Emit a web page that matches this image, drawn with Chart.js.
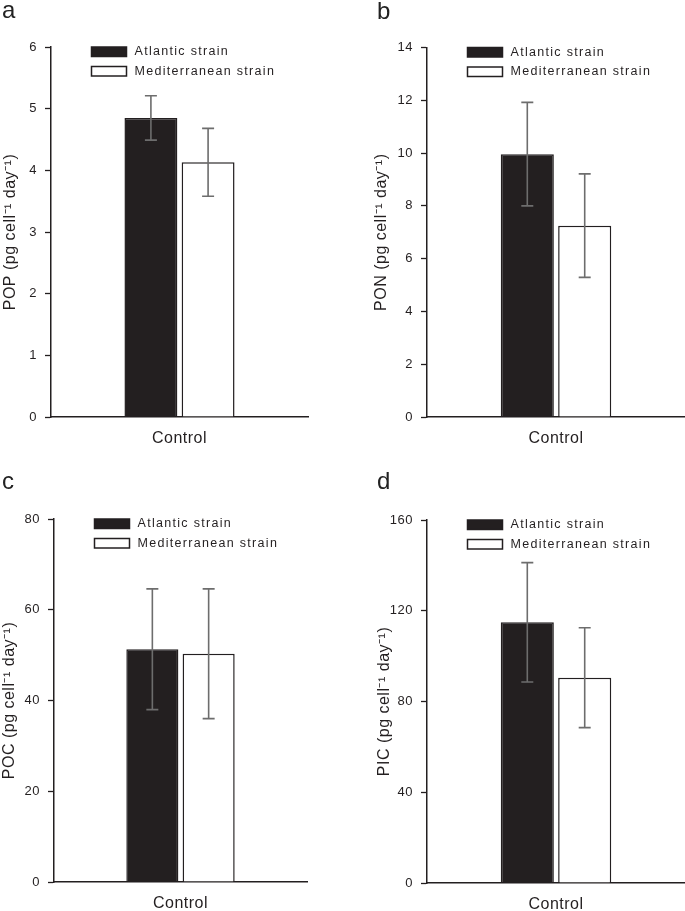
<!DOCTYPE html>
<html>
<head>
<meta charset="utf-8">
<script src="https://cdn.jsdelivr.net/npm/chart.js@4.4.1/dist/chart.umd.min.js"></script>
<style>
  body { margin: 0; background: #fff; }
  #wrap { position: relative; width: 685px; height: 911px; overflow: hidden; }
  canvas { position: absolute; }
  .letter { position: absolute; font-family: "Liberation Sans", Arial, sans-serif; font-size: 24px; line-height: 24px; color: #222; }
</style>
</head>
<body>
<div id="wrap"></div>
<script>
"use strict";
//Data (one category, two strains, four panels)
var categories = ["Control"];
var seriesNames = ["Atlantic strain", "Mediterranean strain"];
var panelLetters = ["a", "b", "c", "d"];
var yNames = ["POP", "PON", "POC", "PIC"];
var yMax = [6, 14, 80, 160];
var yStep = [1, 2, 20, 40];
var atlanticValues = [4.85, 9.96, 51.3, 114.9];
var atlanticErrors = [0.36, 1.96, 13.3, 26.3];
var mediterraneanValues = [4.13, 7.25, 50.3, 90.5];
var mediterraneanErrors = [0.55, 1.96, 14.3, 22.0];

var ink = "#231f20";
var errColor = "#6d6d6d";
var font = "'Liberation Sans', Arial, sans-serif";

//where each panel sits on the page and where its plot area goes
var panels = [
  { left: 0, top: 0, w: 342, h: 460, area: { l: 51, r: 308, t: 47, b: 417 }, title: 10.5, letterTop: -2 },
  { left: 342, top: 0, w: 343, h: 460, area: { l: 85, r: 343, t: 47.5, b: 417 }, title: 40, letterTop: -1 },
  { left: 0, top: 460, w: 342, h: 451, area: { l: 54, r: 307, t: 59, b: 422 }, title: 10, letterTop: 9 },
  { left: 342, top: 460, w: 343, h: 451, area: { l: 85, r: 343, t: 60, b: 423 }, title: 43, letterTop: 9 }
];

var spacing = {
  id: "spacing",
  beforeDraw: function (chart) {
    chart.ctx.letterSpacing = "0.5px";
  }
};

var errorBars = {
  id: "errorBars",
  afterDatasetsDraw: function (chart) {
    var ctx = chart.ctx;
    var ys = chart.scales.y;
    ctx.save();
    ctx.strokeStyle = errColor;
    ctx.lineWidth = 1.6;
    chart.data.datasets.forEach(function (ds, i) {
      chart.getDatasetMeta(i).data.forEach(function (bar, j) {
        var v = ds.data[j];
        var e = ds.errors[j];
        var top = ys.getPixelForValue(v + e);
        var bot = ys.getPixelForValue(v - e);
        ctx.beginPath();
        ctx.moveTo(bar.x, top);
        ctx.lineTo(bar.x, bot);
        ctx.moveTo(bar.x - 6, top);
        ctx.lineTo(bar.x + 6, top);
        ctx.moveTo(bar.x - 6, bot);
        ctx.lineTo(bar.x + 6, bot);
        ctx.stroke();
      });
    });
    ctx.restore();
  }
};

var boxLegend = {
  id: "boxLegend",
  afterDraw: function (chart) {
    var ctx = chart.ctx;
    var a = chart.chartArea;
    ctx.save();
    ctx.letterSpacing = "1.3px";
    ctx.font = "12.5px " + font;
    ctx.textBaseline = "middle";
    ctx.textAlign = "left";
    chart.data.datasets.forEach(function (ds, i) {
      var x = a.left + 40.5;
      var y = a.top + i * 19.5;
      ctx.fillStyle = ds.backgroundColor;
      ctx.fillRect(x, y, 35, 9.5);
      ctx.strokeStyle = ink;
      ctx.lineWidth = 1.5;
      ctx.strokeRect(x, y, 35, 9.5);
      ctx.fillStyle = ink;
      ctx.fillText(ds.label, x + 43, y + 5);
    });
    ctx.restore();
  }
};

var wrap = document.getElementById("wrap");

for (let i = 0; i < panels.length; i++) {
  let p = panels[i];
  let cv = document.createElement("canvas");
  cv.width = p.w;
  cv.height = p.h;
  cv.style.left = p.left + "px";
  cv.style.top = p.top + "px";
  wrap.appendChild(cv);

  let lt = document.createElement("div");
  lt.className = "letter";
  lt.textContent = panelLetters[i];
  lt.style.left = (p.left + (i % 2 ? 35 : 2)) + "px";
  lt.style.top = (p.top + p.letterTop) + "px";
  wrap.appendChild(lt);

  let padLeft = p.title - 9.6;

  new Chart(cv, {
    type: "bar",
    data: {
      labels: categories,
      datasets: [
        {
          label: seriesNames[0],
          data: [atlanticValues[i]],
          errors: [atlanticErrors[i]],
          backgroundColor: ink,
          borderColor: ink,
          borderWidth: 1.5
        },
        {
          label: seriesNames[1],
          data: [mediterraneanValues[i]],
          errors: [mediterraneanErrors[i]],
          backgroundColor: "#ffffff",
          borderColor: ink,
          borderWidth: 1.5
        }
      ]
    },
    options: {
      responsive: false,
      animation: false,
      categoryPercentage: 0.445,
      barPercentage: 0.925,
      layout: {
        padding: { left: padLeft, top: p.area.t, right: p.w - p.area.r, bottom: 0 }
      },
      plugins: {
        legend: { display: false },
        tooltip: { enabled: false }
      },
      scales: {
        x: {
          grid: { display: false, drawTicks: false },
          border: { display: true, color: ink, width: 1.5 },
          ticks: { color: ink, font: { family: font, size: 16 }, padding: 12 },
          afterFit: function (s) { s.height = p.h - p.area.b; }
        },
        y: {
          min: 0,
          max: yMax[i],
          ticks: { stepSize: yStep[i], color: ink, font: { family: font, size: 13 }, padding: 8 },
          grid: { drawOnChartArea: false, drawTicks: true, tickLength: 6, tickColor: ink, tickWidth: 1.3 },
          border: { display: true, color: ink, width: 1.5 },
          title: {
            display: true,
            text: yNames[i] + " (pg cell\u207B\u00B9 day\u207B\u00B9)",
            color: ink,
            font: { family: font, size: 16 },
            padding: 0
          },
          afterFit: function (s) { s.width = p.area.l - padLeft; }
        }
      }
    },
    plugins: [spacing, errorBars, boxLegend]
  });
}
</script>
</body>
</html>
